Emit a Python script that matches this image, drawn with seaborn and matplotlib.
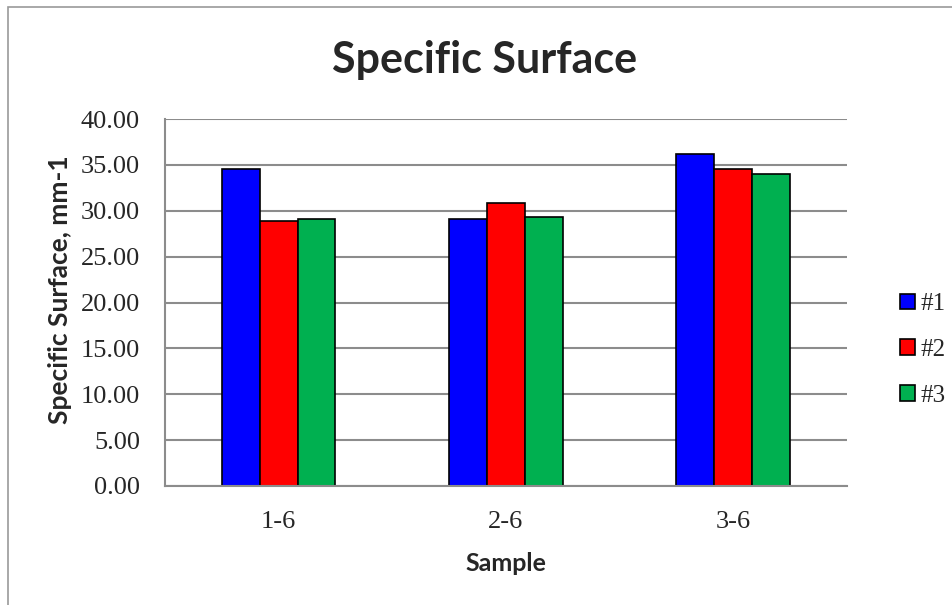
import pandas as pd
import seaborn as sns
import matplotlib.pyplot as plt
from matplotlib.patches import Rectangle

# Values
samples = ['1-6', '2-6', '3-6']
series = ['#1', '#2', '#3']
values_1 = [34.6, 29.1, 36.2]
values_2 = [28.9, 30.8, 34.6]
values_3 = [29.1, 29.3, 34.0]
yticks = [0, 5, 10, 15, 20, 25, 30, 35, 40]

colors = ['#0000FF', '#FF0000', '#00B050']
grid_grey = '#8C8C8C'

df = pd.DataFrame({
    'Sample': samples * 3,
    'Series': [s for s in series for _ in samples],
    'Value': values_1 + values_2 + values_3,
})

sns.set_style('white')

fig = plt.figure(figsize=(9.53, 6.05), dpi=100)
ax = fig.add_axes([165 / 953, 1 - 486 / 605, (847 - 165) / 953, (486 - 119) / 605])

sns.barplot(data=df, x='Sample', y='Value', hue='Series', order=samples,
            hue_order=series, palette=colors, width=0.5, gap=0,
            edgecolor='black', linewidth=1.2, saturation=1, ax=ax)

# y axis
ax.set_ylim(0, 40)
ax.set_yticks(yticks)
ax.set_yticklabels([f'{v:.2f}' for v in yticks], family='Liberation Serif', fontsize=19)
ax.yaxis.grid(True, color=grid_grey, linewidth=1.5)
ax.set_axisbelow(True)

# x axis: labels centred, tick marks on category boundaries
ax.set_xlim(-0.5, 2.5)
ax.set_xticks(range(len(samples)))
ax.set_xticklabels(samples, family='Liberation Serif', fontsize=19)
ax.set_xticks([-0.5, 0.5, 1.5, 2.5], minor=True)
ax.tick_params(axis='x', which='major', length=0, pad=18)
ax.tick_params(axis='x', which='minor', length=7, width=1.2, color=grid_grey)
ax.tick_params(axis='y', length=7, width=1.2, color=grid_grey, pad=11)

for side in ['top', 'right']:
    ax.spines[side].set_visible(False)
for side in ['left', 'bottom']:
    ax.spines[side].set_color(grid_grey)
    ax.spines[side].set_linewidth(1.5)

ax.set_xlabel('Sample', family='Lato', fontweight='bold', fontsize=18, labelpad=14)
ax.set_ylabel('Specific Surface, mm-1', family='Lato', fontweight='bold', fontsize=19)
ax.yaxis.set_label_coords(-0.137, 0.535)

fig.text(485 / 953, 1 - 60 / 605, 'Specific Surface', family='Lato', fontweight='bold',
         fontsize=31, ha='center', va='center')

# legend on the right
handles, labels = ax.get_legend_handles_labels()
ax.legend(handles, labels, loc='center left', bbox_to_anchor=(878 / 953, 1 - 350 / 605),
          bbox_transform=fig.transFigure, frameon=False, prop={'family': 'Liberation Serif', 'size': 18},
          handlelength=0.6, handleheight=0.6, handletextpad=0.2, labelspacing=0.95)

# chart area border (only top/left visible in the crop)
fig.patches.append(Rectangle((8 / 953, -0.1), 1.2, 1 - 7 / 605 + 0.1, transform=fig.transFigure,
                             fill=False, edgecolor='#9A9A9A', linewidth=1.2))

fig.savefig('out.png', dpi=100)
